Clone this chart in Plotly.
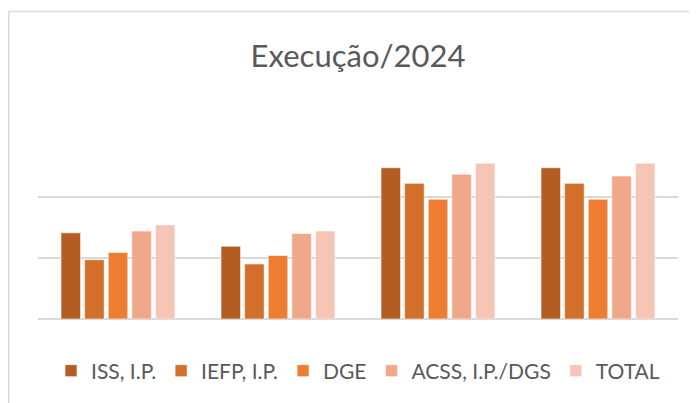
import plotly.graph_objects as go

categories = ["1", "2", "3", "4"]
series_names = ["ISS, I.P.", "IEFP, I.P.", "DGE", "ACSS, I.P./DGS", "TOTAL"]
iss = [1.41, 1.19, 2.475, 2.475]
iefp = [0.97, 0.90, 2.22, 2.22]
dge = [1.09, 1.04, 1.96, 1.96]
acss = [1.44, 1.40, 2.37, 2.34]
total = [1.54, 1.44, 2.55, 2.55]
colors = ["#B45C22", "#D26F2B", "#ED7D31", "#F0A88A", "#F5C6B6"]
title_text = "Execução/2024"

# page has an 8px body margin: figure coordinates = page coordinates - 8
OFF = 8
W, H = 697 - OFF, 403 - OFF
plot_left, plot_right = 38 - OFF, 678 - OFF
plot_bottom = 319 - OFF
px_per_unit = 61.0
y_max = 2.7
plot_top = plot_bottom - px_per_unit * y_max
plot_h = plot_bottom - plot_top

fig = go.Figure()
for name, vals, col in zip(series_names, [iss, iefp, dge, acss, total], colors):
    fig.add_trace(go.Bar(
        x=categories, y=vals, name=name,
        marker=dict(color=col, line=dict(color="rgba(255,255,255,0.6)", width=1)),
    ))

font_family = "Lato, 'Open Sans', sans-serif"
fig.update_layout(
    width=W, height=H,
    margin=dict(l=plot_left, r=W - plot_right, t=plot_top, b=H - plot_bottom, autoexpand=False),
    paper_bgcolor="white", plot_bgcolor="white",
    barmode="group", bargap=0.2625, bargroupgap=0.17,
    font=dict(family=font_family, color="#595959"),
    title=dict(text=title_text, x=0.5, xref="paper", xanchor="center",
               y=1 - (56 - OFF) / H, yref="container", yanchor="middle",
               font=dict(size=31, color="#595959", family=font_family)),
    showlegend=True,
    legend=dict(orientation="h", x=0.5, xanchor="center", xref="paper",
                y=1 - (371 - OFF) / H, yref="container", yanchor="middle",
                font=dict(size=21, color="#595959", family=font_family),
                itemwidth=30, traceorder="normal", itemclick=False),
    xaxis=dict(showticklabels=False, showgrid=False, zeroline=False, showline=False, ticks=""),
    yaxis=dict(range=[0, y_max], tickvals=[0, 1, 2], showticklabels=False,
               showgrid=True, gridcolor="#D9D9D9", gridwidth=1.5,
               zeroline=True, zerolinecolor="#D9D9D9", zerolinewidth=1.5,
               showline=False, ticks=""),
)

# chart-area border (left and top edges visible)
bx = (0.75 - plot_left) / (plot_right - plot_left)
by = (plot_bottom - (12 - OFF)) / plot_h
fig.add_shape(type="line", xref="paper", yref="paper", x0=bx, x1=bx, y0=by, y1=-1.0,
              line=dict(color="#D9D9D9", width=1.5), layer="below")
fig.add_shape(type="line", xref="paper", yref="paper", x0=bx, x1=1.2, y0=by, y1=by,
              line=dict(color="#D9D9D9", width=1.5), layer="below")

fig.write_html("out.html")
